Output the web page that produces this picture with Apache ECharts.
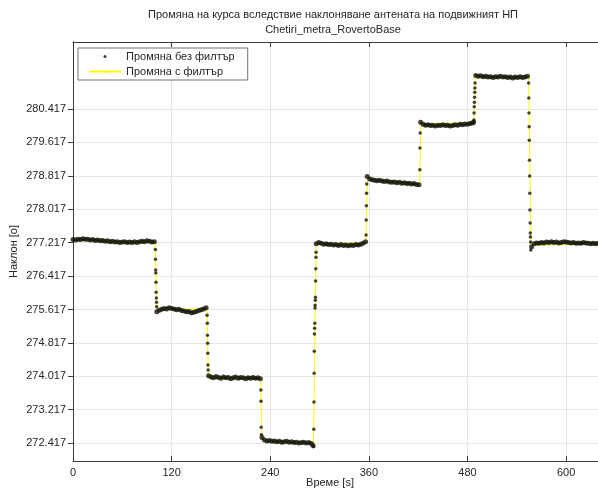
<!DOCTYPE html>
<html><head><meta charset="utf-8">
<script src="https://cdn.jsdelivr.net/npm/echarts@6/dist/echarts.min.js"></script>
<style>html,body{margin:0;padding:0;background:#fff}#c{width:598px;height:491px}</style>
</head><body><div id="c"></div>
<script>
const titleText = 'Промяна на курса вследствие наклоняване антената на подвижният НП\nChetiri_metra_RovertoBase';
const xName = 'Време [s]';
const yName = 'Наклон [о]';
const rawName = 'Промяна без филтър';
const filtName = 'Промяна с филтър';
const xTicks = [0, 120, 240, 360, 480, 600];
const yTicks = [272.417, 273.217, 274.017, 274.817, 275.617, 276.417, 277.217, 278.017, 278.817, 279.617, 280.417];

// raw samples [time s, heading deg]
const plateau1 = [[0,277.29],[3,277.28],[6,277.30],[9,277.29],[12,277.31],[15,277.30],[18,277.30],[21,277.28],[24,277.29],[27,277.27],[30,277.28],[33,277.26],[36,277.27],[39,277.25],[42,277.26],[45,277.24],[48,277.25],[51,277.23],[54,277.24],[57,277.22],[60,277.23],[63,277.24],[66,277.22],[69,277.23],[72,277.22],[75,277.24],[78,277.22],[81,277.24],[84,277.25],[87,277.24],[90,277.26],[93,277.25],[96,277.23],[99,277.24]];
const step1 = [[100.2,277.05],[100.4,276.82],[100.6,276.56],[100.8,276.49],[101.0,276.27],[101.2,276.03],[101.4,275.89],[101.6,275.79],[101.8,275.68]];
const plateau2 = [[102,275.56],[105,275.60],[108,275.62],[111,275.64],[114,275.63],[117,275.66],[120,275.64],[123,275.63],[126,275.61],[129,275.62],[132,275.59],[135,275.58],[138,275.56],[141,275.57],[144,275.54],[147,275.55],[150,275.57],[153,275.59],[156,275.61],[159,275.63],[162,275.66]];
const step2 = [[163.2,275.48],[163.4,275.29],[163.6,275.00],[163.8,274.81],[164.0,274.57],[164.2,274.29],[164.4,274.17]];
const plateau3 = [[165,274.03],[168,274.00],[171,273.98],[174,274.01],[177,273.99],[180,273.97],[183,274.00],[186,273.98],[189,273.99],[192,273.96],[195,273.98],[198,274.00],[201,273.97],[204,273.99],[207,273.98],[210,273.96],[213,273.98],[216,273.97],[219,273.99],[222,273.97],[225,273.98],[228,273.96]];
const step3 = [[228.6,273.69],[228.8,273.42],[229.0,272.80],[229.2,272.62]];
const plateau4 = [[230,272.55],[233,272.49],[236,272.47],[239,272.48],[242,272.46],[245,272.47],[248,272.45],[251,272.46],[254,272.44],[257,272.45],[260,272.46],[263,272.44],[266,272.45],[269,272.43],[272,272.44],[275,272.42],[278,272.43],[281,272.44],[284,272.42],[287,272.43],[290,272.41],[292,272.36]];
const step4 = [[292.8,272.33],[293.0,272.75],[293.2,273.40],[293.4,274.09],[293.6,274.62],[293.8,275.03],[294.0,275.17],[294.2,275.29],[294.4,275.65],[294.6,275.72],[294.8,275.84],[295.0,275.91],[295.2,276.30],[295.4,276.59],[295.6,276.87],[295.8,276.99]];
const plateau5 = [[296,277.19],[299,277.22],[302,277.20],[305,277.18],[308,277.19],[311,277.17],[314,277.18],[317,277.16],[320,277.17],[323,277.15],[326,277.17],[329,277.15],[332,277.16],[335,277.14],[338,277.16],[341,277.15],[344,277.17],[347,277.16],[350,277.18],[353,277.20],[356,277.24]];
const step5 = [[356.6,277.40],[356.8,277.76],[357.0,278.10],[357.2,278.40],[357.4,278.62]];
const plateau6 = [[358,278.80],[361,278.74],[364,278.72],[367,278.71],[370,278.70],[373,278.71],[376,278.69],[379,278.68],[382,278.69],[385,278.67],[388,278.66],[391,278.67],[394,278.65],[397,278.66],[400,278.64],[403,278.65],[406,278.63],[409,278.64],[412,278.62],[415,278.63],[418,278.61],[421,278.60]];
const step6 = [[422.0,278.96],[422.2,279.48],[422.4,279.84]];
const plateau7 = [[423,280.10],[426,280.05],[429,280.03],[432,280.04],[435,280.02],[438,280.03],[441,280.01],[444,280.03],[447,280.02],[450,280.04],[453,280.02],[456,280.03],[459,280.01],[462,280.02],[465,280.04],[468,280.03],[471,280.05],[474,280.04],[477,280.06],[480,280.05],[483,280.07],[486,280.08],[487.4,280.10]];
const step7 = [[487.8,280.15],[488.0,280.32],[488.2,280.47],[488.4,280.58],[488.6,280.70],[488.8,280.82],[489.0,280.92],[489.2,281.04]];
const plateau8 = [[490,281.22],[493,281.20],[496,281.21],[499,281.19],[502,281.20],[505,281.18],[508,281.19],[511,281.17],[514,281.19],[517,281.18],[520,281.20],[523,281.18],[526,281.19],[529,281.17],[532,281.18],[535,281.16],[538,281.18],[541,281.17],[544,281.19],[547,281.17],[550,281.18],[553,281.20]];
const step8 = [[554.4,281.04],[554.6,280.68],[554.8,280.32],[555.0,279.99],[555.2,279.67],[555.4,279.19],[555.6,278.81],[555.8,278.40],[556.0,278.00],[556.2,277.69],[556.4,277.45],[556.6,277.35],[556.8,277.23],[557.0,277.04]];
const plateau9 = [[558,277.12],[561,277.19],[564,277.21],[567,277.20],[570,277.22],[573,277.21],[576,277.23],[579,277.22],[582,277.24],[585,277.22],[588,277.23],[591,277.21],[594,277.22],[597,277.24],[600,277.23],[603,277.22],[606,277.21],[609,277.22],[612,277.20],[615,277.21],[618,277.20],[621,277.22],[624,277.21],[627,277.20],[630,277.19],[633,277.20],[636,277.19],[639,277.20]];

// filtered signal [time s, heading deg]
const filtered = [[0,277.29],[30,277.27],[60,277.23],[100,277.24],[101.8,275.62],[130,275.62],[163,275.64],[164.6,274.02],[228.4,273.97],[229.8,272.50],[292.6,272.40],[295.8,277.18],[356.4,277.22],[358.2,278.76],[421.8,278.61],[423.2,280.06],[487.6,280.09],[489.6,281.20],[554.2,281.19],[557.4,277.15],[640,277.19]];

const pieces = [plateau1, step1, plateau2, step2, plateau3, step3, plateau4, step4,
  plateau5, step5, plateau6, step6, plateau7, step7, plateau8, step8, plateau9];
const rawData = [];
const isStep = [];
pieces.forEach((p, k) => p.forEach(d => { rawData.push(d); isStep.push(k % 2 === 1); }));

const FONT = 'Liberation Sans';
const TXT = '#262626';
const AX = '#3c3c3c';

const chart = echarts.init(document.getElementById('c'), null, {renderer: 'canvas'});
chart.setOption({
  animation: false,
  backgroundColor: '#ffffff',
  title: {
    text: titleText, left: 333, top: 7, padding: 0, textAlign: 'center',
    textStyle: {fontFamily: FONT, fontSize: 11, fontWeight: 'normal', color: TXT, lineHeight: 15}
  },
  legend: {
    orient: 'vertical', left: 78, top: 48, padding: [1, 13, 1, 10], itemGap: 0,
    itemWidth: 32, itemHeight: 3, symbolKeepAspect: true,
    borderColor: '#707070', borderWidth: 1, backgroundColor: '#ffffff',
    textStyle: {fontFamily: FONT, fontSize: 11, color: TXT, lineHeight: 15},
    data: [{name: rawName, icon: 'circle'}, {name: filtName}]
  },
  grid: {left: 73, top: 42, width: 526, height: 419, containLabel: false, outerBoundsMode: 'none'},
  xAxis: [{
    type: 'value', min: 0, max: 640, position: 'bottom',
    name: xName, nameLocation: 'middle', nameGap: 16, nameMoveOverlap: false,
    nameTextStyle: {fontFamily: FONT, fontSize: 11, color: TXT, padding: [0, 12, 0, 0]},
    axisLine: {show: true, lineStyle: {color: AX}},
    axisTick: {show: true, inside: true, length: 5, customValues: xTicks, lineStyle: {color: AX}},
    axisLabel: {customValues: xTicks, margin: 6, fontFamily: FONT, fontSize: 11, color: TXT},
    splitLine: {show: true, lineStyle: {color: '#e6e6e6'}}
  }, {
    type: 'value', min: 0, max: 640, position: 'top',
    axisLine: {show: true, lineStyle: {color: AX}},
    axisTick: {show: true, inside: true, length: 5, customValues: xTicks, lineStyle: {color: AX}},
    axisLabel: {show: false}, splitLine: {show: false}
  }],
  yAxis: [{
    type: 'value', min: 271.99, max: 282.02, position: 'left',
    name: yName, nameLocation: 'middle', nameGap: 54, nameMoveOverlap: false,
    nameTextStyle: {fontFamily: FONT, fontSize: 11, color: TXT},
    axisLine: {show: true, lineStyle: {color: AX}},
    axisTick: {show: true, inside: false, length: 3, customValues: yTicks, lineStyle: {color: AX}},
    axisLabel: {customValues: yTicks, margin: 7, fontFamily: FONT, fontSize: 11, color: TXT,
      formatter: v => v.toFixed(3)},
    splitLine: {show: true, lineStyle: {color: '#e6e6e6'}}
  }, {
    type: 'value', min: 271.99, max: 282.02, position: 'right',
    axisLine: {show: true, lineStyle: {color: AX}},
    axisTick: {show: true, inside: true, length: 5, customValues: yTicks, lineStyle: {color: AX}},
    axisLabel: {show: false}, splitLine: {show: false}
  }],
  series: [{
    name: filtName, type: 'line', data: filtered, symbol: 'none', z: 2,
    lineStyle: {color: '#ffff00', width: 1}, itemStyle: {color: '#ffff00'}
  }, {
    name: rawName, type: 'scatter', data: rawData, symbol: 'circle', z: 3,
    symbolSize: (val, params) => isStep[params.dataIndex] ? 3.5 : 5,
    itemStyle: {color: '#141408'}
  }]
});
</script>
</body></html>
